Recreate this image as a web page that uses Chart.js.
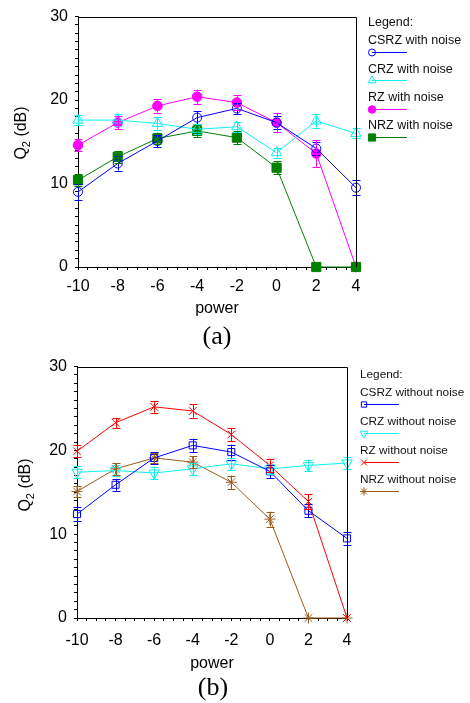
<!DOCTYPE html>
<html>
<head>
<meta charset="utf-8">
<script src="https://cdn.jsdelivr.net/npm/chart.js@4.4.1/dist/chart.umd.min.js"></script>
<style>
  html, body { margin: 0; padding: 0; background: #fff; width: 470px; height: 703px; overflow: hidden; }
  canvas { position: absolute; left: 0; }
  #chartNoise { top: 0; }
  #chartClean { top: 350px; }
</style>
</head>
<body>
<canvas id="chartNoise" width="470" height="350"></canvas>
<canvas id="chartClean" width="470" height="353"></canvas>
<script>
// Launch power (x) shared by both panels
const powers = [-10, -8, -6, -4, -2, 0, 2, 4];

// Panel (a): Q2 in dB with noise, and half-width of the error bars
const csrzNoise    = [9.0, 12.4, 15.1, 17.9, 19.0, 17.3, 14.2, 9.5];
const csrzNoiseErr = [1.0, 0.85, 0.75, 0.75, 0.7, 0.8, 0.75, 0.9];
const crzNoise     = [17.6, 17.6, 17.2, 16.5, 16.8, 13.7, 17.5, 16.0];
const crzNoiseErr  = [0.6, 0.7, 0.8, 0.6, 0.6, 0.6, 0.8, 0.6];
const rzNoise      = [14.6, 17.3, 19.3, 20.4, 19.7, 17.3, 13.6, 0];
const rzNoiseErr   = [0.7, 0.8, 0.8, 0.85, 0.9, 1.1, 1.6, 0];
const nrzNoise     = [10.4, 13.2, 15.4, 16.3, 15.5, 11.9, 0, 0];
const nrzNoiseErr  = [0.7, 0.7, 0.7, 0.7, 0.8, 0.8, 0, 0];

// Panel (b): Q2 in dB without noise
const csrzClean    = [12.4, 15.9, 19.1, 20.6, 19.8, 17.5, 12.8, 9.5];
const csrzCleanErr = [0.8, 0.7, 0.7, 0.8, 0.9, 0.8, 0.8, 0.8];
const crzClean     = [17.4, 17.6, 17.3, 17.8, 18.4, 17.8, 18.2, 18.5];
const crzCleanErr  = [0.7, 0.7, 0.7, 0.7, 0.7, 0.6, 0.7, 0.7];
const rzClean      = [19.9, 23.3, 25.2, 24.7, 21.9, 18.2, 13.9, 0];
const rzCleanErr   = [0.7, 0.6, 0.7, 0.8, 0.8, 0.8, 0.9, 0];
const nrzClean     = [15.1, 17.8, 19.1, 18.6, 16.2, 11.8, 0, 0];
const nrzCleanErr  = [0.7, 0.7, 0.6, 0.7, 0.8, 0.9, 0, 0];

// Axis tick definitions
const yTickLabels = [0, 10, 20, 30];
const xTickLabels = [-10, -8, -6, -4, -2, 0, 2, 4];

const SANS = "'Liberation Sans', Arial, Helvetica, sans-serif";
const SERIF = "'Liberation Serif', 'Times New Roman', serif";

// 'layer' sets the stacking of the marks: lower values are painted on top
const seriesNoise = [
  { label: 'CSRZ with noise', values: csrzNoise, errors: csrzNoiseErr, color: '#0000ff', style: 'circle',   radius: 4.5, fill: false, layer: 0 },
  { label: 'CRZ with noise',  values: crzNoise,  errors: crzNoiseErr,  color: '#11eeee', style: 'triangle', radius: 6,   fill: false, layer: 1 },
  { label: 'RZ with noise',   values: rzNoise,   errors: rzNoiseErr,   color: '#ff00ff', style: 'circle',   radius: 4.8, fill: true,  layer: 3 },
  { label: 'NRZ with noise',  values: nrzNoise,  errors: nrzNoiseErr,  color: '#008000', style: 'rect',     radius: 6.5, fill: true,  layer: 2 }
];

const seriesClean = [
  { label: 'CSRZ without noise', values: csrzClean, errors: csrzCleanErr, color: '#0000ff', style: 'rect',     radius: 5,   fill: false, layer: 0 },
  { label: 'CRZ without noise',  values: crzClean,  errors: crzCleanErr,  color: '#11eeee', style: 'triangle', radius: 6,   fill: false, layer: 1, rotation: 180 },
  { label: 'RZ without noise',   values: rzClean,   errors: rzCleanErr,   color: '#ff0000', style: 'crossRot', radius: 5.5, fill: false, layer: 2 },
  { label: 'NRZ without noise',  values: nrzClean,  errors: nrzCleanErr,  color: '#9a5a1c', style: 'star',     radius: 5.5, fill: false, layer: 3 }
];

// Error bars, frame, rotated y title with subscript, caption and the stacked legend
const figureDecor = {
  id: 'figureDecor',
  afterDatasetsDraw(chart) {
    const ctx = chart.ctx;
    const ys = chart.scales.y;
    ctx.save();
    ctx.lineWidth = 1;
    chart.data.datasets.forEach((ds, i) => {
      const meta = chart.getDatasetMeta(i);
      const errs = ds.errorBars || [];
      meta.data.forEach((pt, j) => {
        const e = errs[j];
        if (!e) return;
        const v = ds.data[j].y;
        const x = Math.round(pt.x) + 0.5;
        const yHi = ys.getPixelForValue(v + e);
        const yLo = ys.getPixelForValue(v - e);
        ctx.strokeStyle = ds.borderColor;
        ctx.beginPath();
        ctx.moveTo(x, yHi); ctx.lineTo(x, yLo);
        ctx.moveTo(x - 4, Math.round(yHi) + 0.5); ctx.lineTo(x + 4, Math.round(yHi) + 0.5);
        ctx.moveTo(x - 4, Math.round(yLo) + 0.5); ctx.lineTo(x + 4, Math.round(yLo) + 0.5);
        ctx.stroke();
      });
    });
    ctx.restore();
  },
  afterDraw(chart, args, opts) {
    const ctx = chart.ctx;
    const a = chart.chartArea;
    ctx.save();
    // top and right sides of the frame
    ctx.strokeStyle = '#000';
    ctx.lineWidth = 1;
    ctx.beginPath();
    ctx.moveTo(Math.round(a.left), Math.round(a.top) + 0.5);
    ctx.lineTo(Math.round(a.right) + 0.5, Math.round(a.top) + 0.5);
    ctx.lineTo(Math.round(a.right) + 0.5, Math.round(a.bottom));
    ctx.stroke();

    // y title "Q2 (dB)" with subscript
    ctx.fillStyle = '#000';
    ctx.translate(opts.yTitle.x, opts.yTitle.y);
    ctx.rotate(-Math.PI / 2);
    ctx.textBaseline = 'alphabetic';
    ctx.textAlign = 'left';
    const big = '16px ' + SANS, small = '11px ' + SANS;
    ctx.font = big; const wQ = ctx.measureText('Q').width;
    ctx.font = small; const w2 = ctx.measureText('2').width;
    ctx.font = big; const wRest = ctx.measureText(' (dB)').width;
    let sx = -(wQ + w2 + wRest) / 2;
    const base = 6;
    ctx.font = big; ctx.fillText('Q', sx, base); sx += wQ;
    ctx.font = small; ctx.fillText('2', sx, base + 4); sx += w2;
    ctx.font = big; ctx.fillText(' (dB)', sx, base);
    ctx.setTransform(1, 0, 0, 1, 0, 0);

    // panel caption
    ctx.font = '26px ' + SERIF;
    ctx.textAlign = 'center';
    ctx.textBaseline = 'middle';
    ctx.fillText(opts.caption.text, opts.caption.x, opts.caption.y);

    // legend: heading, then label text above a line sample with its marker
    const L = opts.legend;
    ctx.font = L.fontSize + 'px ' + SANS;
    ctx.textAlign = 'left';
    ctx.fillStyle = '#111';
    ctx.fillText('Legend:', L.textX, L.headY);
    chart.data.datasets.forEach((ds, i) => {
      const ty = L.firstTextY + i * L.rowGap;
      const ly = Math.round(L.firstLineY + i * L.rowGap) + 0.5;
      ctx.fillStyle = '#111';
      ctx.fillText(ds.label, L.textX, ty);
      ctx.strokeStyle = ds.borderColor;
      ctx.lineWidth = 1;
      ctx.beginPath();
      ctx.moveTo(L.markerX, ly); ctx.lineTo(L.lineEnd, ly);
      ctx.stroke();
      ctx.fillStyle = ds.pointBackgroundColor;
      ctx.strokeStyle = ds.pointBorderColor;
      if (Chart.helpers && Chart.helpers.drawPoint) {
        Chart.helpers.drawPoint(ctx, {
          pointStyle: ds.pointStyle,
          rotation: ds.pointRotation || 0,
          radius: ds.pointRadius * L.markerScale,
          borderWidth: 1
        }, L.markerX, ly);
      }
    });
    ctx.restore();
  }
};

function buildChart(canvasId, series, lay) {
  const axisFont = { family: SANS, size: 16 };
  return new Chart(document.getElementById(canvasId), {
    type: 'line',
    data: {
      datasets: series.map(s => ({
        label: s.label,
        data: powers.map((p, i) => ({ x: p, y: s.values[i] })),
        errorBars: s.errors,
        order: s.layer,
        borderColor: s.color,
        backgroundColor: s.color,
        pointBorderColor: s.color,
        pointBackgroundColor: s.fill ? s.color : 'rgba(0,0,0,0)',
        pointStyle: s.style,
        pointRadius: s.radius,
        pointRotation: s.rotation || 0,
        pointBorderWidth: 1,
        borderWidth: 1,
        tension: 0,
        fill: false,
        clip: false
      }))
    },
    options: {
      responsive: false,
      animation: false,
      devicePixelRatio: 1,
      layout: { padding: { left: 0, top: lay.top, right: lay.right, bottom: 0 } },
      plugins: {
        legend: { display: false },
        tooltip: { enabled: false },
        figureDecor: lay.decor
      },
      scales: {
        x: {
          type: 'linear',
          min: xTickLabels[0],
          max: xTickLabels[xTickLabels.length - 1],
          afterFit: s => { s.height = lay.xHeight; },
          ticks: {
            stepSize: 0.5, autoSkip: false, maxRotation: 0, maxTicksLimit: 100,
            padding: lay.xTickPad, color: '#000', font: axisFont,
            callback: v => (xTickLabels.includes(v) ? String(v) : '')
          },
          grid: { drawOnChartArea: false, drawTicks: true, tickLength: 3, color: '#000' },
          border: { display: true, color: '#000', width: 1 },
          title: { display: true, text: 'power', color: '#000', font: axisFont, padding: { top: 0, bottom: lay.titlePad } }
        },
        y: {
          min: yTickLabels[0],
          max: yTickLabels[yTickLabels.length - 1],
          afterFit: s => { s.width = lay.yWidth; },
          ticks: {
            stepSize: 1, autoSkip: false, maxTicksLimit: 100,
            padding: 7, color: '#000', font: axisFont,
            callback: v => (yTickLabels.includes(v) ? String(v) : '')
          },
          grid: { drawOnChartArea: false, drawTicks: true, tickLength: 3, color: '#000' },
          border: { display: true, color: '#000', width: 1 }
        }
      }
    },
    plugins: [figureDecor]
  });
}

buildChart('chartNoise', seriesNoise, {
  top: 15, right: 114, yWidth: 78, xHeight: 83, xTickPad: 7, titlePad: 32,
  decor: {
    yTitle: { x: 19.5, y: 133 },
    caption: { text: '(a)', x: 217, y: 337 },
    legend: { fontSize: 12.5, textX: 368, headY: 23, firstTextY: 41, firstLineY: 52, rowGap: 28.3,
              markerX: 372, lineEnd: 407, markerScale: 0.78 }
  }
});

buildChart('chartClean', seriesClean, {
  top: 12, right: 123, yWidth: 77, xHeight: 85, xTickPad: 10, titlePad: 30,
  decor: {
    yTitle: { x: 24, y: 135 },
    caption: { text: '(b)', x: 213, y: 338 },
    legend: { fontSize: 11.8, textX: 360, headY: 25, firstTextY: 43, firstLineY: 54, rowGap: 29,
              markerX: 364, lineEnd: 399, markerScale: 0.75 }
  }
});
</script>
</body>
</html>
